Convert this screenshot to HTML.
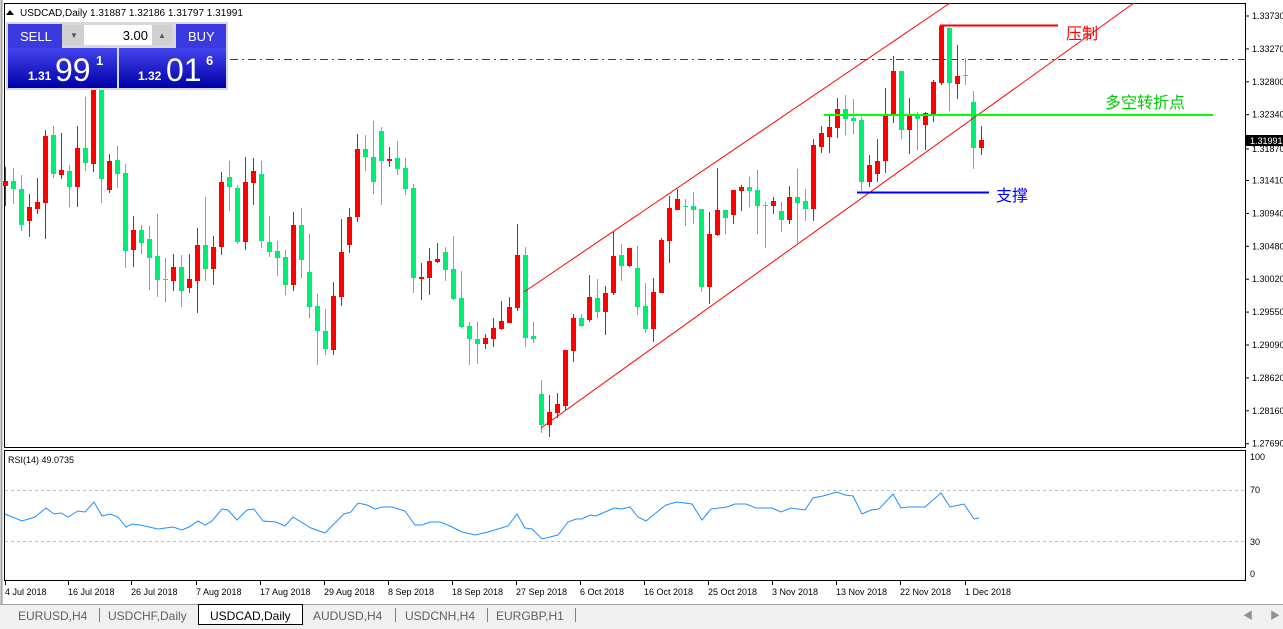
<!DOCTYPE html>
<html><head><meta charset="utf-8"><style>
html,body{margin:0;padding:0;background:#fff;width:1283px;height:629px;overflow:hidden;font-family:"Liberation Sans",sans-serif}
svg{position:absolute;left:0;top:0}
.pn{position:absolute;color:#fff;text-align:center}
</style></head><body>
<svg id="s" width="1283" height="629" xmlns="http://www.w3.org/2000/svg" font-family="Liberation Sans, Noto Sans CJK SC, sans-serif">
<rect x="0" y="0" width="1283" height="629" fill="#fff"/>
<line x1="1.5" y1="0" x2="1.5" y2="605" stroke="#a0a0a0" stroke-width="2"/>
<rect x="4.5" y="3.5" width="1241" height="444" fill="none" stroke="#000"/>
<rect x="4.5" y="450.5" width="1241" height="130" fill="none" stroke="#000"/>
<line x1="230" y1="59.5" x2="1245" y2="59.5" stroke="#006400" stroke-dasharray="8,4,2,4"/>
<line x1="5" y1="490.5" x2="1245" y2="490.5" stroke="#c0c0c0" stroke-dasharray="3,3"/>
<line x1="5" y1="541.5" x2="1245" y2="541.5" stroke="#c0c0c0" stroke-dasharray="3,3"/>
<g id="c"></g>
<line x1="524" y1="292" x2="950" y2="3" stroke="#ff0000" stroke-width="1"/>
<line x1="541" y1="428" x2="1134" y2="3" stroke="#ff0000" stroke-width="1"/>
<line x1="940" y1="25.5" x2="1058" y2="25.5" stroke="#ff0000" stroke-width="2"/>
<line x1="824" y1="115" x2="1213" y2="115" stroke="#00ff00" stroke-width="2"/>
<line x1="857" y1="192.5" x2="989" y2="192.5" stroke="#0000ff" stroke-width="2"/>
<text x="1066" y="39" font-size="16" fill="#ff0000">压制</text>
<text x="1105" y="108" font-size="16" fill="#00cc00">多空转折点</text>
<text x="996" y="201" font-size="16" fill="#0000ff">支撑</text>
<polyline fill="none" stroke="#1e90ff" stroke-width="1" points="5,514 22,521 35,517 46,508 54,514 61,513 68,517 78,511 85,512 94,502 102,516 110,514 118,517 126,527 132,524 140,525 158,529 173,527 182,530 189,527 198,521 205,525 212,521 222,509 228,510 237,520 247,510 254,509 263,521 276,522 285,526 293,517 311,528 325,533 335,523 344,514 351,512 358,503 367,505 375,509 383,507 392,507 405,511 415,525 422,525 430,522 440,522 450,526 462,532 475,535 488,532 508,526 517,514 525,528 532,529 542,539 558,535 568,522 576,519 582,519 590,515 596,516 605,512 614,508 622,509 630,507 638,517 646,521 657,512 666,505 677,502 692,504 702,520 711,509 719,508 727,507 735,504 746,504 756,508 772,508 781,512 791,508 805,510 813,498 823,496 837,492 845,495 853,496 862,514 871,510 879,509 893,494 901,508 908,507 925,507 941,493 950,507 964,504 974,519 979,518"/>
<text x="8" y="463" font-size="9" fill="#000">RSI(14) 49.0735</text>
<g font-size="9" fill="#000" id="ax"></g>
<rect x="1246" y="135" width="37" height="11" fill="#000"/>
<text x="1250" y="144" font-size="9" fill="#fff">1.31991</text>
<text x="1250" y="460" font-size="9">100</text><text x="1250" y="493" font-size="9">70</text>
<text x="1250" y="545" font-size="9">30</text><text x="1250" y="577" font-size="9">0</text>
<g id="tx" font-size="9" fill="#000"></g>
<rect x="0" y="604" width="1283" height="25" fill="#f0f0f0"/>
<line x1="0" y1="604.5" x2="1283" y2="604.5" stroke="#a0a0a0"/>
<rect x="198.5" y="604.5" width="104" height="20" fill="#fff" stroke="#000"/>
<g font-size="12" fill="#606060">
<text x="18" y="620">EURUSD,H4</text><text x="108" y="620">USDCHF,Daily</text>
<text x="210" y="620" fill="#000">USDCAD,Daily</text><text x="313" y="620">AUDUSD,H4</text>
<text x="405" y="620">USDCNH,H4</text><text x="496" y="620">EURGBP,H1</text></g>
<g stroke="#808080"><line x1="99.5" y1="608" x2="99.5" y2="622"/><line x1="395.5" y1="608" x2="395.5" y2="622"/><line x1="487.5" y1="608" x2="487.5" y2="622"/><line x1="575.5" y1="608" x2="575.5" y2="622"/></g>
<text x="1243" y="619" font-size="10" fill="#909090">◀</text><text x="1270" y="619" font-size="10" fill="#909090">▶</text>
<path d="M6 15 L10 10 L14 15 Z" fill="#000"/>
<text x="20" y="16" font-size="10" fill="#000">USDCAD,Daily  1.31887 1.32186 1.31797 1.31991</text>
<defs><linearGradient id="g" x1="0" y1="0" x2="0" y2="1"><stop offset="0" stop-color="#4444ee"/><stop offset="1" stop-color="#0000a8"/></linearGradient></defs>
<rect x="6" y="22" width="222" height="68" fill="#d8d8d8"/>
<rect x="8" y="24" width="54" height="24" fill="#3a3ae0"/>
<rect x="176" y="24" width="50" height="24" fill="#3a3ae0"/>
<rect x="62" y="25" width="22" height="20" fill="#d0d0d0"/><rect x="84" y="25" width="68" height="20" fill="#fff"/><rect x="152" y="25" width="20" height="20" fill="#d0d0d0"/>
<text x="70" y="38" font-size="8" fill="#555">▼</text><text x="158" y="38" font-size="8" fill="#555">▲</text>
<text x="148" y="40" font-size="13" fill="#000" text-anchor="end">3.00</text>
<text x="20" y="41" font-size="13" fill="#fff">SELL</text><text x="188" y="41" font-size="13" fill="#fff">BUY</text>
<rect x="8" y="48" width="109" height="40" fill="url(#g)"/><rect x="119" y="48" width="107" height="40" fill="url(#g)"/>
<text x="28" y="80" font-size="12" font-weight="bold" fill="#fff">1.31</text>
<text x="55" y="81" font-size="32" fill="#fff">99</text><text x="96" y="65" font-size="13" font-weight="bold" fill="#fff">1</text>
<text x="138" y="80" font-size="12" font-weight="bold" fill="#fff">1.32</text>
<text x="166" y="81" font-size="32" fill="#fff">01</text><text x="206" y="65" font-size="13" font-weight="bold" fill="#fff">6</text>
</svg>
<script>
var d=[[5,167,181,186,206,1],[13,168,181,189,204,0],[21,175,189,225,231,0],[29,194,207,221,237,1],[37,178,202,209,214,1],[45,130,136,203,239,1],[53,126,135,174,178,0],[61,133,170,175,179,1],[69,165,171,187,207,0],[77,126,148,187,207,1],[85,97,148,163,171,0],[93,60,60,164,172,1],[101,60,60,179,203,0],[109,154,161,190,193,1],[117,146,160,174,188,0],[125,164,173,251,268,0],[133,216,230,250,267,1],[141,225,230,243,254,0],[149,226,239,258,290,0],[157,214,256,280,297,0],[165,258,279,280,302,0],[173,254,267,281,291,1],[181,255,267,291,307,0],[189,254,279,288,293,1],[197,228,245,281,313,1],[205,197,245,269,281,0],[213,236,247,269,285,1],[221,172,182,247,255,1],[229,161,177,187,211,0],[237,185,188,242,244,0],[245,157,182,242,250,1],[253,158,171,183,205,1],[261,161,174,241,248,0],[269,216,242,252,257,0],[277,241,251,258,276,0],[285,250,257,285,295,0],[293,212,225,285,291,1],[301,208,225,260,278,0],[309,234,272,307,318,0],[317,294,306,331,365,0],[325,309,331,349,355,0],[333,282,296,350,355,1],[341,219,252,297,306,1],[349,208,217,245,253,1],[357,134,149,217,222,1],[365,135,149,157,171,0],[373,121,157,182,194,0],[381,127,131,161,205,0],[389,147,159,161,167,1],[397,141,158,169,175,0],[405,158,168,189,195,0],[413,184,188,278,293,0],[421,263,277,279,300,1],[429,248,261,278,295,1],[437,243,259,262,263,1],[445,247,252,270,281,0],[453,236,269,299,300,0],[461,271,298,327,328,0],[469,322,326,339,365,0],[477,322,339,344,364,0],[485,334,338,344,349,1],[493,318,328,339,347,1],[501,301,321,329,330,1],[509,297,307,323,323,1],[517,224,255,308,311,1],[525,247,255,338,347,0],[533,322,336,339,343,0],[541,380,394,425,433,0],[549,395,412,425,437,1],[557,393,404,413,418,1],[565,350,350,406,410,1],[573,314,318,351,362,1],[581,314,318,326,327,0],[589,275,297,320,322,1],[597,279,298,312,318,0],[605,286,293,312,335,1],[613,232,256,293,295,1],[621,244,255,266,281,0],[629,248,248,266,267,1],[637,246,268,307,315,0],[645,283,306,329,333,0],[653,278,292,329,342,1],[661,238,240,293,293,1],[669,196,208,241,263,1],[677,189,199,210,210,1],[685,199,206,206,226,0],[693,192,206,210,224,0],[701,209,209,287,292,0],[709,212,234,287,304,1],[717,168,210,235,236,1],[725,210,210,218,234,0],[733,190,190,215,224,1],[741,185,187,191,211,1],[749,177,187,191,207,0],[757,170,190,206,234,0],[765,202,205,206,248,0],[773,197,201,206,214,1],[781,202,211,220,232,0],[789,186,197,220,224,1],[797,169,197,203,243,0],[805,189,201,209,221,0],[813,139,145,209,221,1],[821,126,133,147,153,1],[829,116,127,137,153,1],[837,98,109,128,138,1],[845,95,109,119,135,0],[853,99,118,121,134,0],[861,117,120,182,191,0],[869,155,165,182,187,1],[877,139,161,174,182,1],[885,88,116,161,173,1],[893,56,71,114,123,1],[901,71,71,130,139,0],[909,98,116,130,154,1],[917,112,116,119,150,0],[925,112,113,125,150,1],[933,80,82,114,122,1],[941,26,26,83,85,1],[949,27,28,83,111,0],[957,45,76,84,99,1],[965,58,75,76,85,0],[973,91,102,148,169,0],[981,126,140,148,155,1]];
var ns="http://www.w3.org/2000/svg",g=document.getElementById("c");
function el(t,a,p){var e=document.createElementNS(ns,t);for(var k in a)e.setAttribute(k,a[k]);(p||g).appendChild(e);return e;}
d.forEach(function(c){var col=c[5]?"#ff0000":"#00ee76";
el("line",{x1:c[0]+.5,x2:c[0]+.5,y1:c[1],y2:c[4],stroke:col});
el("rect",{x:c[0]-2,y:c[2],width:5,height:Math.max(1,c[3]-c[2]),fill:col});});
var ax=document.getElementById("ax");
var pr=["1.33730","1.33270","1.32800","1.32340","1.31870","1.31410","1.30940","1.30480","1.30020","1.29550","1.29090","1.28620","1.28160","1.27690"];
pr.forEach(function(p,i){var y=16+i*32.9;if(p=="1.31870")y=149;
el("line",{x1:1245,x2:1249,y1:y,y2:y,stroke:"#000"},ax);
var t=el("text",{x:1252,y:y+3},ax);t.textContent=p;});
var tx=document.getElementById("tx");
var dt=[[5,"4 Jul 2018"],[68,"16 Jul 2018"],[131,"26 Jul 2018"],[196,"7 Aug 2018"],[260,"17 Aug 2018"],[324,"29 Aug 2018"],[388,"8 Sep 2018"],[452,"18 Sep 2018"],[516,"27 Sep 2018"],[580,"6 Oct 2018"],[644,"16 Oct 2018"],[708,"25 Oct 2018"],[772,"3 Nov 2018"],[836,"13 Nov 2018"],[900,"22 Nov 2018"],[965,"1 Dec 2018"]];
dt.forEach(function(v){el("line",{x1:v[0]+.5,x2:v[0]+.5,y1:581,y2:585,stroke:"#000"},tx);var t=el("text",{x:v[0],y:595},tx);t.textContent=v[1];});
</script>
</body></html>
